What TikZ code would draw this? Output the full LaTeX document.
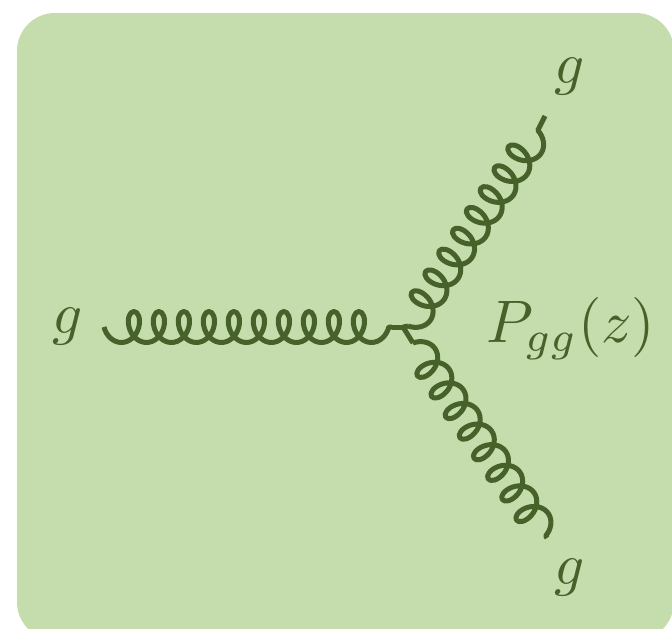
\documentclass[tikz,border=0pt]{standalone}
\usetikzlibrary{decorations.pathmorphing}
\definecolor{bgreen}{HTML}{C5DDAC}
\definecolor{dgreen}{HTML}{466129}
\tikzset{
  gluon/.style={draw=dgreen,line width=5pt,line join=round,decorate,decoration={coil,amplitude=15.5pt,segment length=25pt,aspect=0.72,mirror}},
  gluonr/.style={draw=dgreen,line width=5pt,line join=round,decorate,decoration={coil,amplitude=15pt,segment length=25pt,aspect=0.72}},
  stub/.style={draw=dgreen,line width=5pt,line join=miter},
  lab/.style={text=dgreen,scale=5.9,inner sep=0pt},
  plab/.style={text=dgreen,scale=6,inner sep=0pt}
}
\begin{document}
\begin{tikzpicture}[x=1pt,y=-1pt]
\useasboundingbox (0,0) rectangle (672,629);
\begin{scope}
\clip (0,0) rectangle (672,629);
\fill[bgreen,rounded corners=38pt] (17,13) rectangle (674,640);
\end{scope}
\coordinate (v) at (403,327);
\coordinate (lend) at (104,327);
\coordinate (lin) at (392,327);
\coordinate (uin) at (408,326);
\coordinate (uout) at (538,130);
\coordinate (uend) at (545,116);
\coordinate (dn) at (413,343);
\coordinate (dend) at (547,538);
\path[gluon] (lend) -- (lin);
\path[stub] (lin) -- (v);
\path[stub] (v) -- (uin);
\path[gluon] (uin) -- (uout);
\path[stub] (uout) -- (uend);
\path[gluonr] (dn) -- (dend);
\path[stub] (v) -- (dn);
\node[lab] (g1) at (68,327) {$g$};
\node[lab] (g2) at (570,77) {$g$};
\node[lab] (g3) at (570,578) {$g$};
\node[plab] (p) at (571,329) {$P_{gg}(z)$};
\end{tikzpicture}
\end{document}
